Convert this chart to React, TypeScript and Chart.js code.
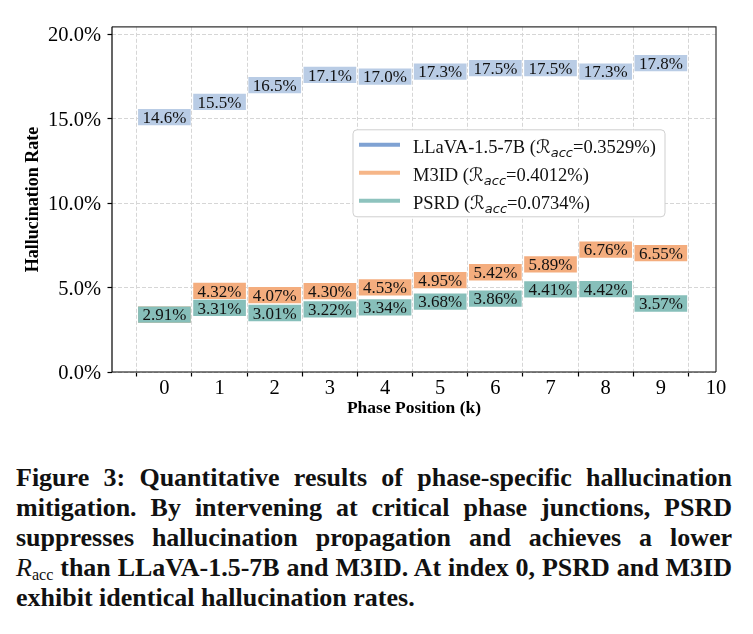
import React, { useEffect, useRef } from "react";
import { Chart, registerables } from "chart.js";

Chart.register(...registerables);

// Phase indices and axis ticks
const phases = [0, 1, 2, 3, 4, 5, 6, 7, 8, 9];
const xTickValues = [0, 1, 2, 3, 4, 5, 6, 7, 8, 9, 10];
const xTickLabels = ["0", "1", "2", "3", "4", "5", "6", "7", "8", "9", "10"];
const yTickValues = [0, 5, 10, 15, 20];

// Hallucination rate (%) per phase
const llavaRates = [14.6, 15.5, 16.5, 17.1, 17.0, 17.3, 17.5, 17.5, 17.3, 17.8];
const m3idRates = [2.91, 4.32, 4.07, 4.3, 4.53, 4.95, 5.42, 5.89, 6.76, 6.55];
const psrdRates = [2.91, 3.31, 3.01, 3.22, 3.34, 3.68, 3.86, 4.41, 4.42, 3.57];

const seriesNames = ["LLaVA-1.5-7B", "M3ID", "PSRD"];
const raccValues = ["0.3529%", "0.4012%", "0.0734%"];
const labelDecimals = [1, 2, 2];

const boxColors = ["#b9cce5", "#f4ad7e", "#87bfba"];
const lineColors = ["#7fa2d3", "#f6b688", "#8ec3be"];

const captionLines = [
  "Figure 3: Quantitative results of phase-specific hallucination",
  "mitigation. By intervening at critical phase junctions, PSRD",
  "suppresses hallucination propagation and achieves a lower",
  " than LLaVA-1.5-7B and M3ID. At index 0, PSRD and M3ID",
  "exhibit identical hallucination rates.",
];

// Height of each label band, in percentage points
const BAND = 0.965;
const SERIF = '"Liberation Serif", "Times New Roman", serif';

const allRates = [llavaRates, m3idRates, psrdRates];

const bandLabels = {
  id: "bandLabels",
  afterDatasetDraw(chart: any, args: any) {
    const ds: any = chart.data.datasets[args.index];
    const ctx = chart.ctx;
    ctx.save();
    ctx.font = `17px ${SERIF}`;
    ctx.textAlign = "center";
    ctx.textBaseline = "alphabetic";
    ctx.fillStyle = "#111";
    args.meta.data.forEach((bar: any, i: number) => {
      const { x, y, base } = bar.getProps(["x", "y", "base"], true);
      const cy = (y + base) / 2;
      ctx.fillText(ds.rateLabels[i], x, cy + 5.8);
    });
    ctx.restore();
  },
};

const frameAndLegend = {
  id: "frameAndLegend",
  afterDraw(chart: any) {
    const { ctx, chartArea: a } = chart;
    ctx.save();
    // axes frame
    ctx.lineWidth = 1.2;
    ctx.strokeStyle = "#333";
    ctx.beginPath();
    ctx.moveTo(a.left, a.top);
    ctx.lineTo(a.right, a.top);
    ctx.lineTo(a.right, a.bottom);
    ctx.stroke();
    ctx.strokeStyle = "#000";
    ctx.beginPath();
    ctx.moveTo(a.left, a.top);
    ctx.lineTo(a.left, a.bottom);
    ctx.lineTo(a.right, a.bottom);
    ctx.stroke();

    // legend
    const lx = a.right - 363;
    const ly = a.top + 103;
    const lw = 312;
    const lh = 87;
    ctx.beginPath();
    ctx.roundRect(lx, ly, lw, lh, 4);
    ctx.fillStyle = "#fff";
    ctx.fill();
    ctx.lineWidth = 1;
    ctx.strokeStyle = "#cfcfcf";
    ctx.stroke();

    seriesNames.forEach((name, r) => {
      const cy = ly + 15 + r * 28;
      ctx.beginPath();
      ctx.lineWidth = 4;
      ctx.strokeStyle = lineColors[r];
      ctx.moveTo(lx + 6, cy);
      ctx.lineTo(lx + 47, cy);
      ctx.stroke();

      const base = cy + 8.6;
      let x = lx + 60;
      ctx.fillStyle = "#111";
      ctx.textAlign = "left";
      ctx.textBaseline = "alphabetic";
      ctx.font = `18.5px ${SERIF}`;
      const head = `${name} (`;
      ctx.fillText(head, x, base);
      x += ctx.measureText(head).width;
      ctx.font = `18.5px "DejaVu Sans"`;
      ctx.fillText("\u211B", x, base);
      x += ctx.measureText("\u211B").width;
      ctx.font = `italic 13px "DejaVu Sans"`;
      ctx.fillText("acc", x, base + 4);
      x += ctx.measureText("acc").width;
      ctx.font = `18.5px ${SERIF}`;
      ctx.fillText(`=${raccValues[r]})`, x, base);
    });
    ctx.restore();
  },
};

export default function App() {
  const canvasRef = useRef<HTMLCanvasElement | null>(null);

  useEffect(() => {
    if (!canvasRef.current) return;
    const datasets = allRates.map((rates, s) => ({
      label: seriesNames[s],
      data: rates.map((v, i) => ({ x: phases[i] + 0.5, y: [v, v + BAND] })),
      rateLabels: rates.map((v) => `${v.toFixed(labelDecimals[s])}%`),
      backgroundColor: boxColors[s],
      borderWidth: 0,
      order: 3 - s,
    }));

    const gridStyle = {
      color: "#d6d6d6",
      lineWidth: 1,
      drawTicks: true,
      tickLength: 4.5,
      tickColor: "#000",
      tickWidth: 1.2,
      offset: false,
    };

    const chart = new Chart(canvasRef.current, {
      type: "bar",
      data: { datasets } as any,
      plugins: [bandLabels, frameAndLegend],
      options: {
        animation: false,
        responsive: false,
        events: [],
        layout: { padding: { left: 0, right: 29, top: 14, bottom: 0 } },
        datasets: {
          bar: {
            grouped: false,
            categoryPercentage: 1,
            barPercentage: 0.955,
          },
        } as any,
        plugins: {
          legend: { display: false },
          tooltip: { enabled: false },
        },
        scales: {
          x: {
            type: "linear",
            min: -0.45,
            max: 10.5,
            offset: false,
            afterBuildTicks: (ax: any) => {
              ax.ticks = xTickValues.map((v) => ({ value: v }));
            },
            afterFit: (ax: any) => {
              ax.height = 56;
            },
            ticks: {
              autoSkip: false,
              maxRotation: 0,
              labelOffset: 27.6,
              padding: 0,
              color: "#000",
              font: { family: SERIF, size: 20.5 },
              callback: (_v: any, i: number) => xTickLabels[i],
            },
            grid: gridStyle,
            border: { display: false, dash: [4, 2] },
            title: {
              display: true,
              text: "Phase Position (k)",
              color: "#000",
              font: { family: SERIF, size: 17.5, weight: "bold" },
              padding: { top: 0, bottom: 9.5 },
            },
          },
          y: {
            type: "linear",
            min: 0,
            max: 20.43,
            afterBuildTicks: (ax: any) => {
              ax.ticks = yTickValues.map((v) => ({ value: v }));
            },
            afterFit: (ax: any) => {
              ax.width = 104;
            },
            ticks: {
              padding: 6.5,
              labelOffset: 2,
              color: "#000",
              font: { family: SERIF, size: 20.5 },
              callback: (v: any) => `${Number(v).toFixed(1)}%`,
            },
            grid: gridStyle,
            border: { display: false, dash: [4, 2] },
            title: {
              display: true,
              text: "Hallucination Rate",
              color: "#000",
              font: { family: SERIF, size: 18, weight: "bold" },
              padding: { top: 14.8, bottom: 0 },
            },
          },
        },
      } as any,
    });
    return () => chart.destroy();
  }, []);

  return (
    <div>
      <div style={{ width: 737, height: 420 }}>
        <canvas ref={canvasRef} width={737} height={420} style={{ display: "block" }} />
      </div>
      <div
        style={{
          marginTop: 35,
          marginLeft: 8,
          width: 716,
          font: `bold 26px/30px ${SERIF}`,
          color: "#111",
        }}
      >
        {captionLines.map((line, i) => (
          <div
            key={i}
            style={{
              textAlign: "justify",
              textAlignLast: i < captionLines.length - 1 ? "justify" : "left",
            } as any}
          >
            {i === 3 && (
              <>
                <i style={{ fontWeight: 400 }}>R</i>
                <span style={{ fontWeight: 400, fontSize: "0.62em", verticalAlign: "-0.22em", lineHeight: 0 }}>
                  acc
                </span>
              </>
            )}
            {line}
          </div>
        ))}
      </div>
    </div>
  );
}
